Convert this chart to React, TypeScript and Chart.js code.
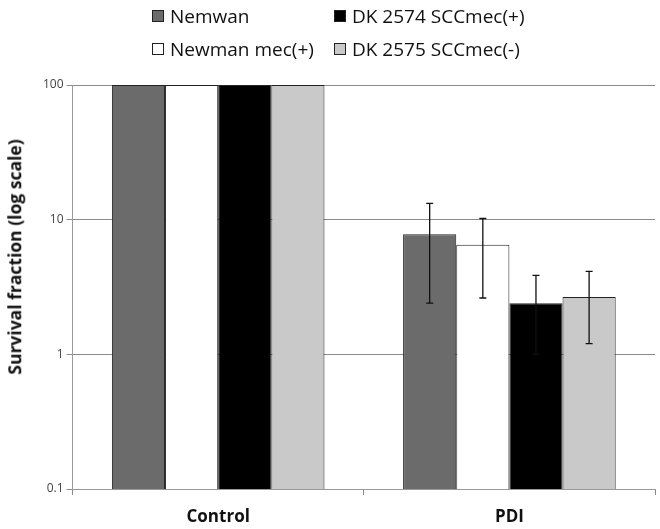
import React, { useEffect, useRef } from "react";
import { Chart, registerables } from "chart.js";

Chart.register(...registerables);

const categories = ["Control", "PDI"];
const seriesNames = ["Nemwan", "Newman mec(+)", "DK 2574 SCCmec(+)", "DK 2575 SCCmec(-)"];
const seriesColors = ["#6b6b6b", "#ffffff", "#000000", "#c9c9c9"];
const nemwanValues = [100, 7.8];
const newmanMecValues = [100, 6.5];
const dk2574Values = [100, 2.4];
const dk2575Values = [100, 2.66];
const nemwanErrLow = [null, 2.4];
const nemwanErrHigh = [null, 13.2];
const newmanMecErrLow = [null, 2.62];
const newmanMecErrHigh = [null, 10.2];
const dk2574ErrLow = [null, 1.0];
const dk2574ErrHigh = [null, 3.86];
const dk2575ErrLow = [null, 1.2];
const dk2575ErrHigh = [null, 4.13];
const yTicks = [0.1, 1, 10, 100];
const yTitle = "Survival fraction (log scale)";

const FONT = "'Open Sans', 'Noto Sans', sans-serif";

const errorBarPlugin = {
  id: "errorBars",
  afterDatasetsDraw(chart: any) {
    const ctx = chart.ctx;
    const yScale = chart.scales.y;
    chart.data.datasets.forEach((ds: any, i: number) => {
      const meta = chart.getDatasetMeta(i);
      meta.data.forEach((bar: any, j: number) => {
        const lo = ds.errLow[j];
        const hi = ds.errHigh[j];
        if (lo == null || hi == null) return;
        const x = bar.x;
        const yLo = yScale.getPixelForValue(lo);
        const yHi = yScale.getPixelForValue(hi);
        ctx.save();
        ctx.strokeStyle = "#111";
        ctx.lineWidth = 1.3;
        ctx.beginPath();
        ctx.moveTo(x, yLo);
        ctx.lineTo(x, yHi);
        ctx.moveTo(x - 3.5, yLo);
        ctx.lineTo(x + 3.5, yLo);
        ctx.moveTo(x - 3.5, yHi);
        ctx.lineTo(x + 3.5, yHi);
        ctx.stroke();
        ctx.restore();
      });
    });
  },
};

export default function App() {
  const ref = useRef<HTMLCanvasElement>(null);
  useEffect(() => {
    const values = [nemwanValues, newmanMecValues, dk2574Values, dk2575Values];
    const lows = [nemwanErrLow, newmanMecErrLow, dk2574ErrLow, dk2575ErrLow];
    const highs = [nemwanErrHigh, newmanMecErrHigh, dk2574ErrHigh, dk2575ErrHigh];
    const chart = new Chart(ref.current!, {
      type: "bar",
      data: {
        labels: categories,
        datasets: seriesNames.map((name, i) => ({
          label: name,
          data: values[i],
          backgroundColor: seriesColors[i],
          borderColor: "#222",
          borderWidth: 1,
          categoryPercentage: 0.73,
          barPercentage: 1,
          errLow: lows[i],
          errHigh: highs[i],
        })) as any,
      },
      options: {
        animation: false,
        responsive: false,
        layout: { padding: { top: 85, right: 5, left: 40, bottom: 0 } },
        plugins: { legend: { display: false }, tooltip: { enabled: false } },
        scales: {
          x: {
            afterFit: (scale: any) => {
              scale.height = 40;
            },
            grid: { offset: true, drawOnChartArea: false, color: "#8a8a8a", tickLength: 6 },
            border: { color: "#999" },
            ticks: { color: "#111", font: { family: FONT, size: 17, weight: "bold" }, padding: 12 },
          } as any,
          y: {
            type: "logarithmic",
            min: 0.1,
            max: 100,
            afterBuildTicks: (scale: any) => {
              scale.ticks = yTicks.map((v) => ({ value: v }));
            },
            grid: { color: "#8a8a8a", tickLength: 6 },
            border: { color: "#999" },
            ticks: {
              color: "#444",
              font: { family: FONT, size: 12 },
              padding: 3,
              callback: (v: any) => String(v),
            },
          } as any,
        },
      },
      plugins: [errorBarPlugin],
    });
    return () => chart.destroy();
  }, []);

  const legendItems = [
    { name: seriesNames[0], color: seriesColors[0], x: 152, y: 16 },
    { name: seriesNames[2], color: seriesColors[2], x: 334, y: 16 },
    { name: seriesNames[1], color: seriesColors[1], x: 152, y: 49 },
    { name: seriesNames[3], color: seriesColors[3], x: 334, y: 49 },
  ];

  return (
    <div style={{ position: "fixed", left: 0, top: 0, width: 660, height: 529, background: "#fff" }}>
      <canvas ref={ref} width={660} height={529} style={{ position: "absolute", left: 0, top: 0 }} />
      <div
        style={{
          position: "absolute",
          left: 15,
          top: 257,
          transform: "translate(-50%, -50%) rotate(-90deg)",
          fontFamily: FONT,
          fontWeight: "bold",
          fontSize: 17.5,
          color: "#111",
          whiteSpace: "nowrap",
          lineHeight: 1,
        }}
      >
        {yTitle}
      </div>
      {legendItems.map((it) => (
        <div
          key={it.name}
          style={{
            position: "absolute",
            left: it.x,
            top: it.y - 12,
            height: 24,
            display: "flex",
            alignItems: "center",
            fontFamily: FONT,
            fontSize: 19,
            color: "#111",
            whiteSpace: "nowrap",
          }}
        >
          <span
            style={{
              display: "inline-block",
              width: 10,
              height: 10,
              background: it.color,
              border: "1px solid #222",
              marginRight: 6,
            }}
          />
          {it.name}
        </div>
      ))}
    </div>
  );
}
